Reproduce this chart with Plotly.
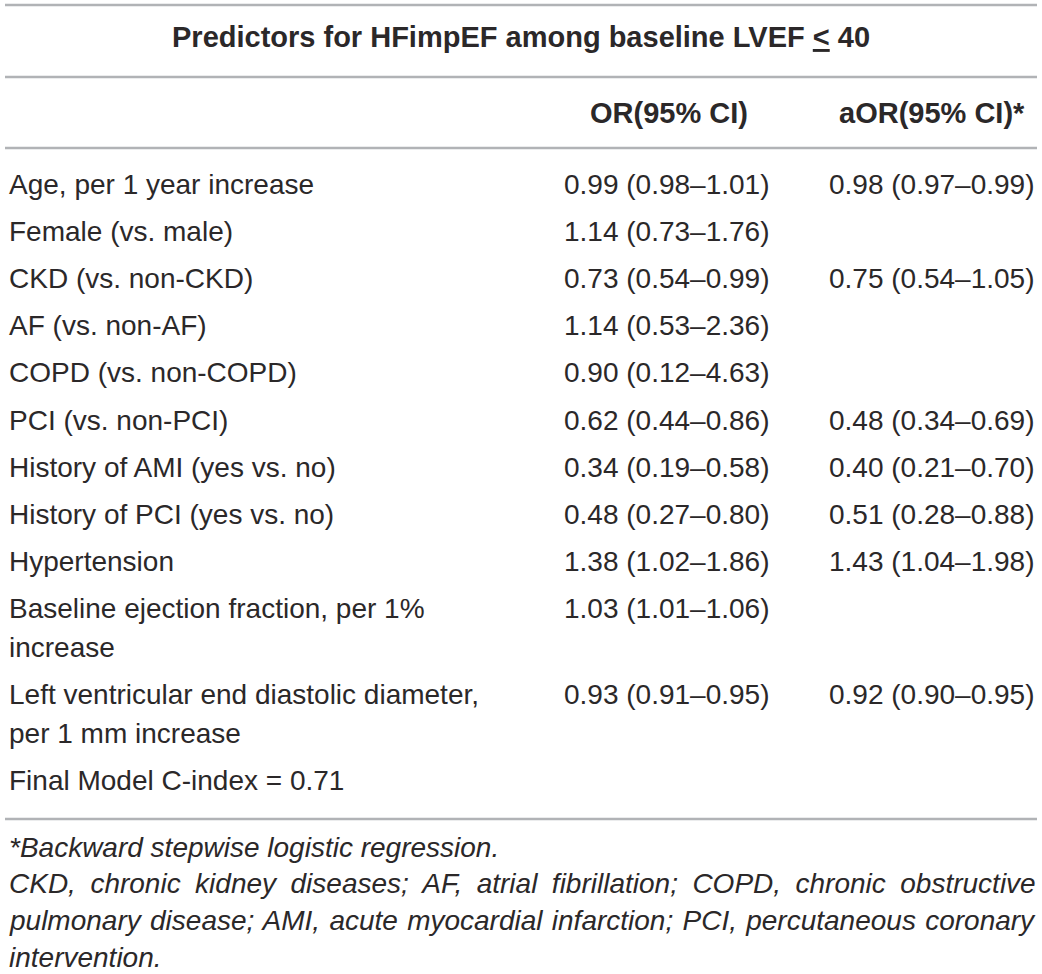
import plotly.graph_objects as go

# table content
title = "<b>Predictors for HFimpEF among baseline LVEF <u>&lt;</u> 40</b>"
col_headers = ["OR(95% CI)", "aOR(95% CI)*"]
predictors = [
    "Age, per 1 year increase",
    "Female (vs. male)",
    "CKD (vs. non-CKD)",
    "AF (vs. non-AF)",
    "COPD (vs. non-COPD)",
    "PCI (vs. non-PCI)",
    "History of AMI (yes vs. no)",
    "History of PCI (yes vs. no)",
    "Hypertension",
    "Baseline ejection fraction, per 1%\nincrease",
    "Left ventricular end diastolic diameter,\nper 1 mm increase",
    "Final Model C-index = 0.71",
]
or_ci = [
    "0.99 (0.98–1.01)",
    "1.14 (0.73–1.76)",
    "0.73 (0.54–0.99)",
    "1.14 (0.53–2.36)",
    "0.90 (0.12–4.63)",
    "0.62 (0.44–0.86)",
    "0.34 (0.19–0.58)",
    "0.48 (0.27–0.80)",
    "1.38 (1.02–1.86)",
    "1.03 (1.01–1.06)",
    "0.93 (0.91–0.95)",
    "",
]
aor_ci = [
    "0.98 (0.97–0.99)",
    "",
    "0.75 (0.54–1.05)",
    "",
    "",
    "0.48 (0.34–0.69)",
    "0.40 (0.21–0.70)",
    "0.51 (0.28–0.88)",
    "1.43 (1.04–1.98)",
    "",
    "0.92 (0.90–0.95)",
    "",
]
footnotes = [
    "*Backward stepwise logistic regression.",
    "CKD, chronic kidney diseases; AF, atrial fibrillation; COPD, chronic obstructive",
    "pulmonary disease; AMI, acute myocardial infarction; PCI, percutaneous coronary",
    "intervention.",
]
word_gap = [0, 6.7, 1.5, 0]  # extra word spacing to fake justified lines

W, H = 1042, 974
FONT = "Liberation Sans"
TXT = "#2b2829"
RULE = "#b1b3b6"
FS = 28

row_top = 184
row_pitch = 47.2
line_pitch = 38.7

fig = go.Figure()


def put(x, y, text, size=FS, anchor="left"):
    fig.add_annotation(
        x=x, y=y, text=text, showarrow=False, xanchor=anchor, yanchor="middle",
        font=dict(family=FONT, size=size, color=TXT), borderpad=0,
    )


y = row_top
for lab, a, b in zip(predictors, or_ci, aor_ci):
    lines = lab.split("\n")
    for k, ln in enumerate(lines):
        put(8, y + k * line_pitch, ln)
    if a:
        put(563, y, a)
    if b:
        put(828, y, b)
    y += row_pitch + (len(lines) - 1) * line_pitch

put(669, 113, f"<b>{col_headers[0]}</b>", size=29, anchor="center")
put(932, 113, f"<b>{col_headers[1]}</b>", size=29, anchor="center")
put(521, 37, title, size=29, anchor="center")

for i, (ft, g) in enumerate(zip(footnotes, word_gap)):
    if g:
        ft = f'<span style="word-spacing:{g}px">{ft}</span>'
    put(8, 847 + i * 36.8, f"<i>{ft}</i>")

for ry in [5, 77, 148, 819]:
    fig.add_shape(type="line", x0=5, x1=1037, y0=ry, y1=ry,
                  line=dict(color=RULE, width=2.5), layer="below")

fig.update_xaxes(range=[0, W], visible=False, fixedrange=True)
fig.update_yaxes(range=[H, 0], visible=False, fixedrange=True)
fig.update_layout(
    width=W, height=H, autosize=False, showlegend=False,
    margin=dict(l=0, r=0, t=0, b=0),
    paper_bgcolor="white", plot_bgcolor="white",
)
# drop the default body margin so the figure sits at the page corner
fig.write_html(
    "out.html",
    config={"displayModeBar": False, "staticPlot": True},
    post_script="document.body.style.margin='0';",
)
